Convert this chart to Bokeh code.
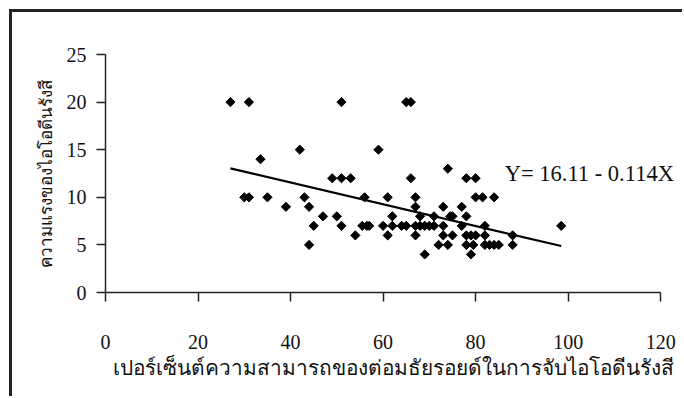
import numpy as np
from bokeh.plotting import figure
from bokeh.models import Range1d, FixedTicker, Label
from bokeh.embed import file_html
from bokeh.resources import INLINE

# ---- data ----
x_vals = [27, 31, 51, 65, 66,
          42, 59, 33.5, 74,
          49, 51, 53, 66, 78, 80,
          30, 31, 35, 43, 56, 61, 67, 80, 81.5, 84,
          39, 44, 67, 73, 77,
          47, 50, 62, 68, 71, 74.5, 75, 78,
          45, 51, 55.5, 56.5, 57, 60, 62, 64, 65, 67, 68, 69, 70, 71, 73, 77, 82, 98.5,
          54, 61, 67, 73, 75, 78, 79, 80, 82, 88,
          44, 72, 74, 78, 79.5, 82, 83, 84, 85, 88,
          69, 79]
y_vals = [20, 20, 20, 20, 20,
          15, 15, 14, 13,
          12, 12, 12, 12, 12, 12,
          10, 10, 10, 10, 10, 10, 10, 10, 10, 10,
          9, 9, 9, 9, 9,
          8, 8, 8, 8, 8, 8, 8, 8,
          7, 7, 7, 7, 7, 7, 7, 7, 7, 7, 7, 7, 7, 7, 7, 7, 7, 7,
          6, 6, 6, 6, 6, 6, 6, 6, 6, 6,
          5, 5, 5, 5, 5, 5, 5, 5, 5, 5,
          4, 4]
intercept = 16.11
slope = -0.114
equation_text = "Y= 16.11 -  0.114X"
x_ticks = [0, 20, 40, 60, 80, 100, 120]
y_ticks = [0, 5, 10, 15, 20, 25]
x_title = "เปอร์เซ็นต์ความสามารถของต่อมธัยรอยด์ในการจับไอโอดีนรังสี"
y_title = "ความแรงของไอโอดีนรังสี"

SERIF = "Liberation Serif"

p = figure(width=682, height=396, output_backend="svg", toolbar_location=None,
           x_range=Range1d(0, 124.5), y_range=Range1d(0, 25),
           min_border_left=105, min_border_top=54, min_border_right=1,
           min_border_bottom=104)
p.border_fill_alpha = 0
p.background_fill_color = None
p.outline_line_color = None
p.grid.visible = False
p.styles = {"box-shadow": "inset 9px 9px 0 0 #ffffff, inset 12px 12px 0 0 #222222"}

for ax, ticks in ((p.xaxis[0], x_ticks), (p.yaxis[0], y_ticks)):
    ax.ticker = FixedTicker(ticks=ticks)
    ax.bounds = (ticks[0], ticks[-1])
    ax.major_tick_out = 9
    ax.major_tick_in = 0
    ax.minor_tick_out = 0
    ax.minor_tick_in = 0
    ax.axis_line_color = "#222222"
    ax.axis_line_width = 1.5
    ax.major_tick_line_color = "#222222"
    ax.major_tick_line_width = 1.5
    ax.major_label_text_font = SERIF
    ax.major_label_text_font_size = "20px"
    ax.major_label_text_color = "#111111"
    ax.axis_label_text_font = SERIF
    ax.axis_label_text_font_style = "normal"
    ax.axis_label_text_color = "#111111"

p.xaxis.major_label_standoff = 33
p.yaxis.major_label_standoff = 10
p.xaxis.axis_label = x_title
p.yaxis.axis_label = y_title
p.xaxis.axis_label_text_font_size = "20.8px"
p.yaxis.axis_label_text_font_size = "17px"
p.xaxis.axis_label_standoff = 4
p.yaxis.axis_label_standoff = 8

p.scatter(x_vals, y_vals, marker="square", angle=np.pi / 4, size=6.5,
          fill_color="#000000", line_color="#000000")

xl = np.array([min(x_vals), max(x_vals)])
p.line(xl, intercept + slope * xl, line_color="#000000", line_width=2.2)

p.add_layout(Label(x=86.3, y=12.5, text=equation_text, text_font=SERIF,
                   text_font_size="22.5px", text_baseline="middle",
                   text_align="left", text_color="#111111"))

open("out.html", "w").write(file_html(p, INLINE))
